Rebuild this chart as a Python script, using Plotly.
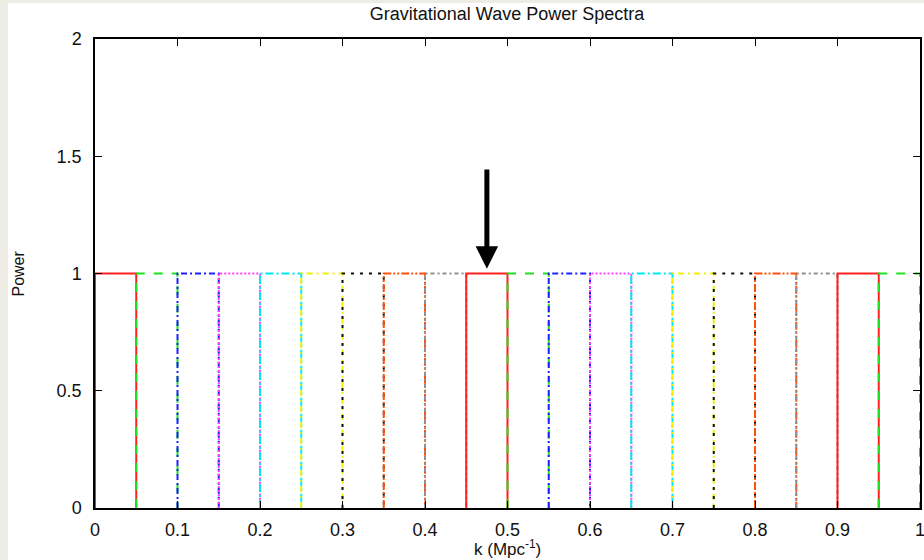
import plotly.graph_objects as go

# Data
bin_left = [0.00, 0.05, 0.10, 0.15, 0.20, 0.25, 0.30, 0.35, 0.40, 0.45,
            0.50, 0.55, 0.60, 0.65, 0.70, 0.75, 0.80, 0.85, 0.90, 0.95]
bin_right = [0.05, 0.10, 0.15, 0.20, 0.25, 0.30, 0.35, 0.40, 0.45, 0.50,
             0.55, 0.60, 0.65, 0.70, 0.75, 0.80, 0.85, 0.90, 0.95, 1.00]
power = [1] * 20
highlight_bin = 9
arrow_top_power = 1.45
x_ticks = [0, 0.1, 0.2, 0.3, 0.4, 0.5, 0.6, 0.7, 0.8, 0.9, 1]
x_tick_labels = ["0", "0.1", "0.2", "0.3", "0.4", "0.5", "0.6", "0.7", "0.8", "0.9", "1"]
y_ticks = [0, 0.5, 1, 1.5, 2]
y_tick_labels = ["0", "0.5", "1", "1.5", "2"]

colors = ["#ff2020", "#20e020", "#2020ff", "#ff40ff", "#00e8f0",
          "#f0f000", "#101010", "#ff5010", "#909090"]
dashes = ["solid", "dash", "6px,3px,2px,3px", "2px,2px", "8px,3px,2px,3px",
          "6px,4px,2px,4px", "3px,6px", "8px,2px,2px,2px,2px,2px", "4px,3px,2px,3px"]

fig = go.Figure()
for i, (a, b, p) in enumerate(zip(bin_left, bin_right, power)):
    c = colors[i % len(colors)]
    d = dashes[i % len(dashes)]
    fig.add_trace(go.Scatter(x=[a, a, b, b], y=[0, p, p, 0], mode="lines",
                             line=dict(color=c, width=2, dash=d),
                             showlegend=False, hoverinfo="skip"))

font = "Liberation Sans, Arial, Helvetica, sans-serif"
xc = (bin_left[highlight_bin] + bin_right[highlight_bin]) / 2
annotations = [
    dict(x=xc, y=power[highlight_bin] + 0.02, ax=xc, ay=arrow_top_power,
         xref="x", yref="y", axref="x", ayref="y", text="",
         showarrow=True, arrowhead=2, arrowsize=0.9, arrowwidth=5,
         arrowcolor="black"),
    dict(text="k (Mpc<sup>-1</sup>)", xref="paper", yref="paper", x=0.5,
         y=-(40 / 469), xanchor="center", yanchor="middle", showarrow=False,
         font=dict(family=font, size=17, color="#111")),
    dict(text="Power", xref="paper", yref="paper", x=-(77 / 825), y=0.5,
         xanchor="center", yanchor="middle", textangle=-90, showarrow=False,
         font=dict(family=font, size=16, color="#111")),
]

axis_common = dict(showline=True, linecolor="black", linewidth=1.5, mirror="ticks",
                   ticks="inside", ticklen=7, tickcolor="black", tickwidth=1.2,
                   showgrid=False, zeroline=False, automargin=False,
                   ticklabeloverflow="allow",
                   tickfont=dict(family=font, size=18, color="#111"))

fig.update_layout(
    width=924, height=560,
    margin=dict(l=95, r=4, t=39, b=52),
    paper_bgcolor="#ededE5",
    plot_bgcolor="white",
    title=dict(text="Gravitational Wave Power Spectra", x=507 / 924, xanchor="center",
               y=1 - 14 / 560, yanchor="middle", automargin=False,
               font=dict(family=font, size=18, color="#111")),
    xaxis=dict(range=[0, 1], tickvals=x_ticks, ticktext=x_tick_labels, ticklabelstandoff=5,
               **axis_common),
    yaxis=dict(range=[0, 2], tickvals=y_ticks, ticktext=y_tick_labels, ticklabelstandoff=8,
               **axis_common),
    shapes=[dict(type="rect", xref="paper", yref="paper",
                 x0=(8 - 95) / 825, x1=1.01, y0=-(60 / 469), y1=1 + (36 / 469),
                 fillcolor="white", line=dict(width=0), layer="below")],
    annotations=annotations,
)

fig.write_html("out.html", config={"displayModeBar": False},
               post_script="document.body.style.margin='0';document.body.style.overflow='hidden';")
